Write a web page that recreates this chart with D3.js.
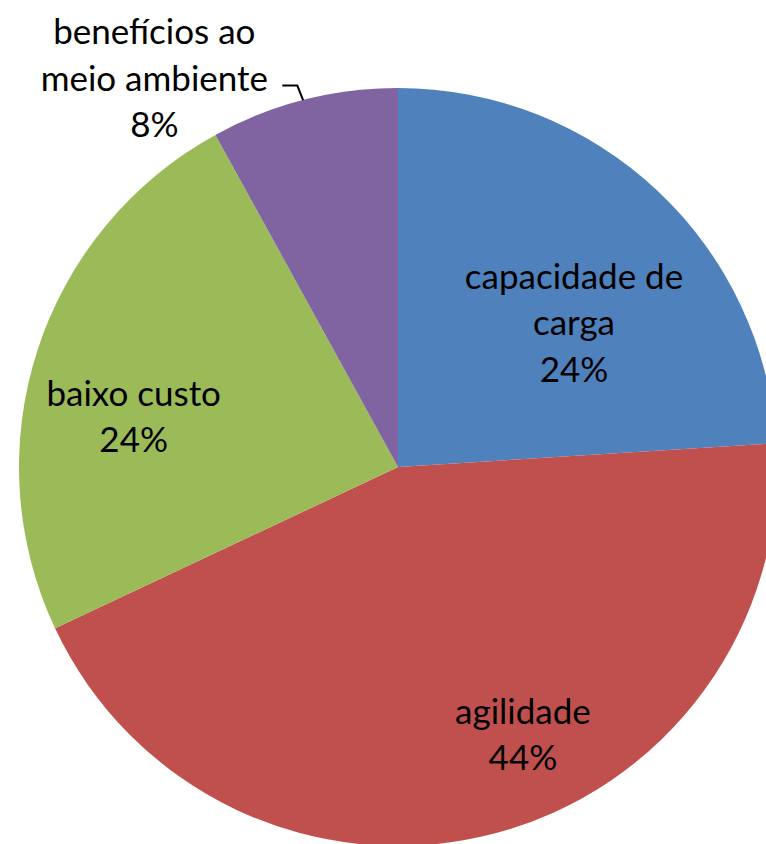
<!DOCTYPE html>
<html>
<head>
<meta charset="utf-8">
<script src="https://cdnjs.cloudflare.com/ajax/libs/d3/7.8.5/d3.min.js"></script>
<style>
  html, body { margin: 0; padding: 0; background: #fff; overflow: hidden; }
  text { font-family: Lato, "Open Sans", sans-serif; fill: #000; }
</style>
</head>
<body>
<div id="chart"></div>
<script>
// data
var categories = ["capacidade de carga", "agilidade", "baixo custo", "benefícios ao meio ambiente"];
var values = [24, 44, 24, 8];
var colors = ["#4F81BD", "#C0504D", "#9BBB59", "#8064A2"];
// label lines as they are wrapped in the picture
var labelLines = [
    ["capacidade de", "carga"],
    ["agilidade"],
    ["baixo custo"],
    ["benefícios ao", "meio ambiente"]
];

var width = 766;
var height = 844;
var cx = 398, cy = 467, radius = 379;

// where each label sits: angle (deg, clockwise from top) and distance in radii
var labelAngle = [50.7, 155, 280.8, 327.9];
var labelDist = [0.60, 0.78, 0.71, 1.21];

var svg = d3.select("#chart").append("svg")
    .attr("width", width)
    .attr("height", height);

var g = svg.append("g").attr("transform", "translate(" + cx + "," + cy + ")");

var data = categories.map(function(c, i) { return {name: c, value: values[i], i: i}; });

var pie = d3.pie()
    .sort(null)
    .value(function(d) { return d.value; });

var arc = d3.arc()
    .innerRadius(0)
    .outerRadius(radius);

var arcs = pie(data);

g.selectAll(".slice")
    .data(arcs)
    .enter().append("path")
    .attr("class", "slice")
    .attr("d", arc)
    .style("fill", function(d) { return colors[d.data.i]; });

var fontSize = 35;
var lineH = 46.5;

function polar(angleDeg, r) {
    var a = angleDeg * Math.PI / 180;
    return [Math.sin(a) * r, -Math.cos(a) * r];
}

var label = g.selectAll(".label")
    .data(arcs)
    .enter().append("text")
    .attr("class", "label")
    .attr("text-anchor", "middle")
    .style("font-size", fontSize + "px")
    .attr("transform", function(d) {
        var p = polar(labelAngle[d.data.i], labelDist[d.data.i] * radius);
        return "translate(" + p[0] + "," + p[1] + ")";
    });

label.each(function(d) {
    var lines = labelLines[d.data.i].concat([d.data.value + "%"]);
    var t = d3.select(this);
    var n = lines.length;
    lines.forEach(function(l, k) {
        t.append("tspan")
            .attr("x", 0)
            .attr("y", (k - (n - 1) / 2) * lineH)
            .attr("dy", "0.35em")
            .text(l);
    });
});

// leader line for the small purple slice
var edgeAngle = 345.5;
var tip = polar(edgeAngle, radius);
var lp = polar(labelAngle[3], labelDist[3] * radius);
g.append("path")
    .attr("d", "M" + (lp[0] + 128) + "," + (lp[1] + 7)
        + "H" + (lp[0] + 143)
        + "L" + tip[0] + "," + tip[1])
    .style("fill", "none")
    .style("stroke", "#000")
    .style("stroke-width", 2);
</script>
</body>
</html>
